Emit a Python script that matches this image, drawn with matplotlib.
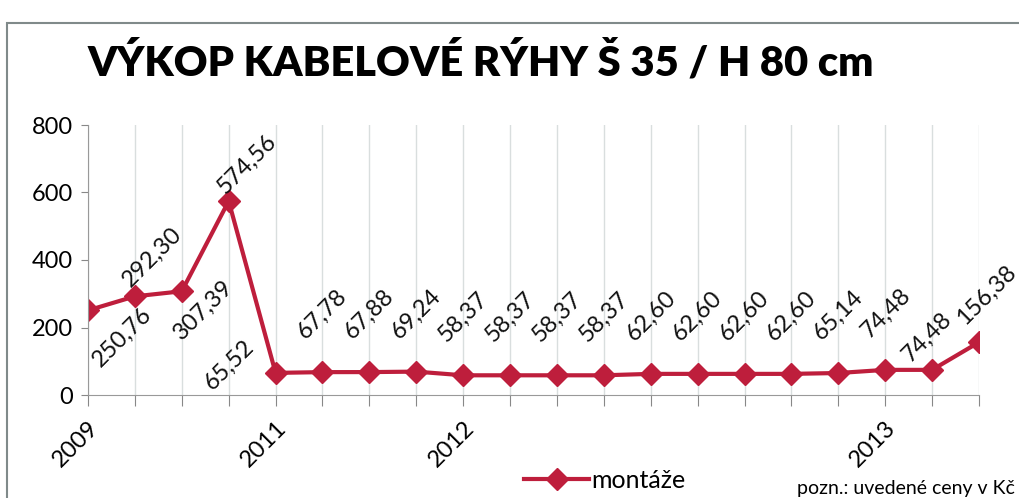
import numpy as np
import matplotlib.pyplot as plt
from matplotlib.patches import Rectangle

# %%
# data
values = [250.76, 292.30, 307.39, 574.56, 65.52, 67.78, 67.88, 69.24,
          58.37, 58.37, 58.37, 58.37, 62.60, 62.60, 62.60, 62.60,
          65.14, 74.48, 74.48, 156.38]
tick_labels = ['2009', '', '', '', '2011', '', '', '', '2012', '', '', '', '',
               '', '', '', '', '2013', '', '']
y_ticks = [0, 200, 400, 600, 800]
series_name = 'montáže'
title = 'VÝKOP KABELOVÉ RÝHY Š 35 / H 80 cm'
note = 'pozn.: uvedené ceny v Kč'

# label offsets in pixels (dx, dy) relative to each point
label_offsets = [(34, -27), (17, 39), (22, -19), (18, 37), (-46, 8)] + \
    [(0, 58)] * 12 + [(1, 57), (-5, 33), (7, 47)]

red = '#be1e3c'
plt.rcParams['font.family'] = ['Lato', 'DejaVu Sans']

# %%
fig = plt.figure(figsize=(10.19, 4.98), dpi=100)
fig.patches.append(Rectangle((7 / 1019, -0.1), 1.2, 1 - 23 / 498 + 0.1,
                             transform=fig.transFigure, fill=False,
                             edgecolor='#808a8a', lw=1.5))
ax = fig.add_axes([88 / 1019, 1 - 395 / 498, (979 - 88) / 1019, 270 / 498])

x = np.arange(len(values))
ax.plot(x, values, '-D', color=red, lw=3, ms=11, label=series_name)
for xi, v, (dx, dy) in zip(x, values, label_offsets):
    ax.annotate(f'{v:.2f}'.replace('.', ','), (xi, v), xytext=(dx * 0.72, dy * 0.72),
                textcoords='offset points', ha='center', va='center',
                rotation=45, fontsize=17, color='#111111')

ax.set_xlim(0, len(values) - 1)
ax.set_ylim(0, 800)
ax.set_yticks(y_ticks)
ax.set_xticks(x)
ax.set_xticklabels(tick_labels, rotation=45, ha='right', rotation_mode='anchor',
                   fontsize=17)
ax.tick_params(axis='y', labelsize=17, length=5, color='#888888', pad=6)
ax.tick_params(axis='x', length=8, color='#888888', pad=8)
ax.grid(axis='x', color='#d9dede', lw=1)
ax.set_axisbelow(True)
for s in ['top', 'right']:
    ax.spines[s].set_visible(False)
for s in ['left', 'bottom']:
    ax.spines[s].set_color('#999999')

fig.text(481 / 1019, 1 - 62 / 498, title, ha='center', va='center',
         fontsize=30, fontweight='heavy')
fig.legend(loc='center', bbox_to_anchor=(605 / 1019, 1 - 480 / 498),
           frameon=False, fontsize=18, handlelength=2.6, handletextpad=0.1)
fig.text(1015 / 1019, 1 - 488 / 498, note, ha='right', va='center', fontsize=14)

plt.savefig('out.png', dpi=100)
